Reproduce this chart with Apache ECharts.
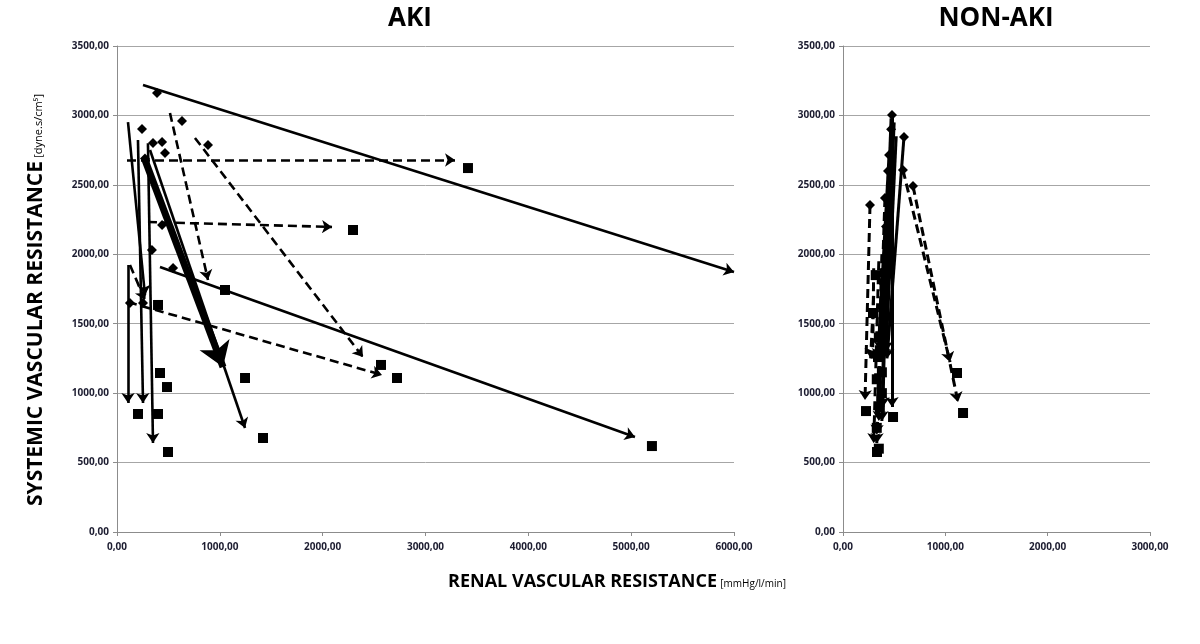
<!DOCTYPE html>
<html><head><meta charset="utf-8">
<script src="https://cdn.jsdelivr.net/npm/echarts@6/dist/echarts.min.js"></script>
<style>html,body{margin:0;padding:0;background:#fff}#c{width:1200px;height:644px}</style>
</head><body><div id="c"></div>
<script>
// ---------- AKI panel ----------
// arrows: start (X0,Y0) -> end (X1,Y1); group 'S' = solid, 'D' = dashed
var akiX0 = [253, 97, 515, 758, 301, 418, 107, 321, 107, 107, 204, 301, 126];
var akiY0 = [3219, 2679, 3018, 2838, 2232, 1909, 1656, 2751, 2952, 1923, 2823, 2800, 1923];
var akiX1 = [6000, 3287, 885, 2392, 2091, 5037, 2577, 1245, 272, 107, 253, 350, 272];
var akiY1 = [1872, 2679, 1815, 1260, 2197, 684, 1131, 749, 1706, 929, 929, 641, 1670];
var akiGroup = ['S', 'D', 'D', 'D', 'D', 'S', 'D', 'S', 'S', 'S', 'S', 'S', 'D'];
// mean change arrow
var akiMeanX = [272, 1031];
var akiMeanY = [2679, 1188];
// pre values (diamonds)
var akiPreX = [389, 243, 438, 467, 632, 885, 438, 340, 545, 350, 126, 253, 272];
var akiPreY = [3162, 2902, 2809, 2730, 2960, 2787, 2211, 2031, 1901, 2802, 1649, 1649, 2690];
// post values (squares)
var akiPostX = [399, 418, 486, 204, 399, 496, 1050, 1245, 1420, 2295, 2567, 2723, 3413, 5202];
var akiPostY = [1635, 1145, 1044, 850, 850, 576, 1743, 1109, 677, 2175, 1203, 1109, 2621, 619];

// ---------- NON-AKI panel ----------
var nonX0 = [264, 684, 586, 479, 596, 450, 410, 470, 300, 350, 420, 300, 520, 500, 460, 430, 480, 380, 440];
var nonY0 = [2355, 2492, 2607, 3003, 2845, 2715, 2405, 2980, 1900, 1950, 2200, 1700, 2850, 2950, 2600, 2300, 2800, 2000, 2450];
var nonX1 = [215, 1124, 1046, 479, 430, 340, 330, 380, 290, 300, 380, 270, 420, 400, 360, 350, 420, 330, 390];
var nonY1 = [950, 936, 1224, 900, 1250, 1250, 640, 1250, 1250, 640, 800, 1250, 1300, 1250, 1300, 800, 1500, 700, 900];
var nonGroup = ['D', 'D', 'D', 'S', 'S', 'S', 'D', 'S', 'D', 'D', 'S', 'D', 'S', 'S', 'S', 'D', 'S', 'D', 'S'];
var nonPreX = [479, 596, 264, 684, 586, 450, 410, 470, 420, 380, 440];
var nonPreY = [3003, 2845, 2355, 2492, 2607, 2715, 2405, 2900, 2200, 1800, 2600];
var nonPostX = [225, 1173, 1114, 489, 332, 350, 293, 342, 330, 360, 380, 320, 400, 350, 380, 330];
var nonPostY = [871, 857, 1145, 828, 576, 600, 1577, 1260, 1100, 900, 1150, 1850, 1600, 1400, 1000, 750];

function fmt(v) { return v.toFixed(2).replace('.', ','); }

function arrowData(x0, y0, x1, y1, g) {
  return x0.map(function (_, i) {
    return {
      coords: [[x0[i], y0[i]], [x1[i], y1[i]]],
      lineStyle: { type: g[i] === 'D' ? [9, 5] : 'solid' }
    };
  });
}
function pts(xs, ys) { return xs.map(function (x, i) { return [x, ys[i]]; }); }

var labelStyle = { color: '#1c1c30', fontSize: 10, fontWeight: 'bold', fontFamily: 'Open Sans' };
function yAxis(idx) {
  return {
    gridIndex: idx, type: 'value', min: 0, max: 3500, interval: 500,
    axisLine: { show: true, lineStyle: { color: '#8c8c8c', width: 1 } },
    axisTick: { show: true, length: 4, lineStyle: { color: '#8c8c8c' } },
    splitLine: { show: true, lineStyle: { color: '#a6a6a6', width: 1 } },
    axisLabel: Object.assign({ margin: 8, formatter: fmt }, labelStyle)
  };
}
function xAxis(idx, max) {
  return {
    gridIndex: idx, type: 'value', min: 0, max: max, interval: 1000,
    axisLine: { show: true, onZero: false, lineStyle: { color: '#8c8c8c', width: 1 } },
    axisTick: { show: true, length: 4, lineStyle: { color: '#8c8c8c' } },
    splitLine: { show: false },
    axisLabel: Object.assign({ margin: 10, formatter: fmt }, labelStyle)
  };
}

var chart = echarts.init(document.getElementById('c'), null, { renderer: 'canvas' });
var lineBase = { color: '#000', width: 2.6, opacity: 1 };
var dotStyle = { color: '#000', opacity: 1 };
chart.setOption({
  animation: false,
  backgroundColor: '#fff',
  grid: [
    { left: 117, right: 466, top: 46, bottom: 112 },
    { left: 843, right: 50, top: 46, bottom: 112 }
  ],
  xAxis: [xAxis(0, 6000), xAxis(1, 3000)],
  yAxis: [yAxis(0), yAxis(1)],
  graphic: [
    { type: 'text', x: 410, y: 19, style: { text: 'AKI', align: 'center', verticalAlign: 'middle', fontSize: 26, fontWeight: 'bold', fontFamily: 'Open Sans', fill: '#000' } },
    { type: 'text', x: 996, y: 19, style: { text: 'NON-AKI', align: 'center', verticalAlign: 'middle', fontSize: 26, fontWeight: 'bold', fontFamily: 'Open Sans', fill: '#000' } },
    { type: 'text', x: 617, y: 582, style: {
        text: '{a|RENAL VASCULAR RESISTANCE} {b|[mmHg/l/min]}', align: 'center', verticalAlign: 'middle',
        rich: { a: { fontSize: 18, fontWeight: 'bold', fontFamily: 'Open Sans', color: '#000' },
                 b: { fontSize: 10, fontFamily: 'Open Sans', color: '#000', padding: [5, 0, 0, 0] } } } },
    { type: 'text', x: 36, y: 300, rotation: Math.PI / 2, style: {
        text: '{a|SYSTEMIC VASCULAR RESISTANCE} {b|[dyne.s/cm⁵]}', align: 'center', verticalAlign: 'middle',
        rich: { a: { fontSize: 21, fontWeight: 'bold', fontFamily: 'Open Sans', color: '#000' },
                 b: { fontSize: 11, fontFamily: 'Open Sans', color: '#000', padding: [5, 0, 0, 0] } } } }
  ],
  series: [
    { type: 'lines', coordinateSystem: 'cartesian2d', xAxisIndex: 0, yAxisIndex: 0, silent: true,
      symbol: ['none', 'arrow'], symbolSize: 10, lineStyle: lineBase, z: 3,
      data: arrowData(akiX0, akiY0, akiX1, akiY1, akiGroup) },
    { type: 'lines', coordinateSystem: 'cartesian2d', xAxisIndex: 0, yAxisIndex: 0, silent: true,
      symbol: ['none', 'arrow'], symbolSize: 24, lineStyle: { color: '#000', width: 7, opacity: 1 }, z: 4,
      data: [{ coords: [[akiMeanX[0], akiMeanY[0]], [akiMeanX[1], akiMeanY[1]]] }] },
    { type: 'scatter', xAxisIndex: 0, yAxisIndex: 0, symbol: 'diamond', symbolSize: 10, silent: true,
      itemStyle: dotStyle, data: pts(akiPreX, akiPreY), z: 5 },
    { type: 'scatter', xAxisIndex: 0, yAxisIndex: 0, symbol: 'rect', symbolSize: 10, silent: true,
      itemStyle: dotStyle, data: pts(akiPostX, akiPostY), z: 5 },
    { type: 'lines', coordinateSystem: 'cartesian2d', xAxisIndex: 1, yAxisIndex: 1, silent: true,
      symbol: ['none', 'arrow'], symbolSize: 10, lineStyle: { color: '#000', width: 3, opacity: 1 }, z: 3,
      data: arrowData(nonX0, nonY0, nonX1, nonY1, nonGroup) },
    { type: 'scatter', xAxisIndex: 1, yAxisIndex: 1, symbol: 'diamond', symbolSize: 10, silent: true,
      itemStyle: dotStyle, data: pts(nonPreX, nonPreY), z: 5 },
    { type: 'scatter', xAxisIndex: 1, yAxisIndex: 1, symbol: 'rect', symbolSize: 10, silent: true,
      itemStyle: dotStyle, data: pts(nonPostX, nonPostY), z: 5 }
  ]
});
</script></body></html>
